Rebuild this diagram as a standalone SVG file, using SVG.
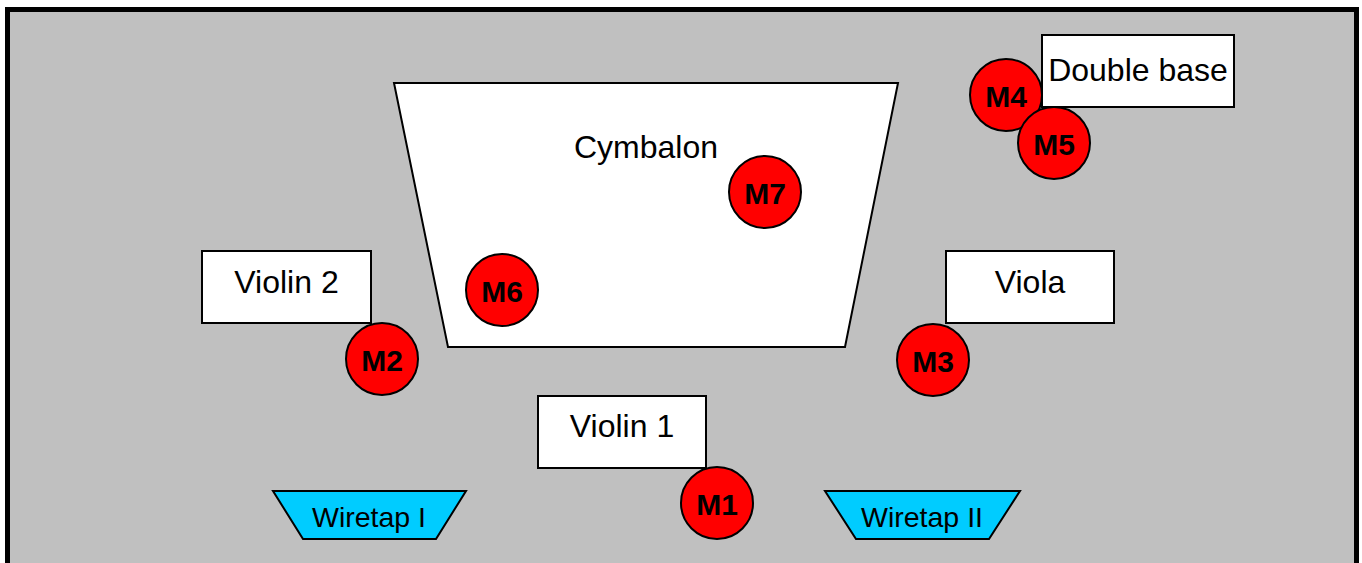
<svg xmlns="http://www.w3.org/2000/svg" width="1362" height="563" viewBox="0 0 1362 563">
<style>
.box{fill:#ffffff;stroke:#000;stroke-width:2}
.mic{fill:#ff0000;stroke:#000;stroke-width:2}
.lbl{font-family:"Liberation Sans",Arial,sans-serif;font-size:32px;fill:#000;text-anchor:middle}
.mlbl{font-family:"Liberation Sans",Arial,sans-serif;font-size:30px;font-weight:bold;fill:#000;text-anchor:middle}
.tap{fill:#00ccff;stroke:#000;stroke-width:2}
.tlbl{font-family:"Liberation Sans",Arial,sans-serif;font-size:28.5px;fill:#000;text-anchor:middle}
</style>
<rect id="stage" x="7.5" y="9.5" width="1349" height="570" fill="#c0c0c0" stroke="#000" stroke-width="5"/>
<g id="connectors"></g>
<g id="cymbalon">
<polygon class="box" points="394,83 898,83 845,347 448,347"/>
<text class="lbl" x="646" y="158">Cymbalon</text>
</g>
<g id="violin2">
<rect class="box" x="202" y="251" width="169" height="72"/>
<text class="lbl" x="286.5" y="293">Violin 2</text>
</g>
<g id="viola">
<rect class="box" x="946" y="251" width="168" height="72"/>
<text class="lbl" x="1030" y="293">Viola</text>
</g>
<g id="violin1">
<rect class="box" x="538" y="396" width="168" height="72"/>
<text class="lbl" x="622" y="437">Violin 1</text>
</g>
<g id="wiretap1">
<polygon class="tap" points="273,491 466,491 436,539 303,539"/>
<text class="tlbl" x="369" y="527">Wiretap I</text>
</g>
<g id="wiretap2">
<polygon class="tap" points="825,491 1020,491 989,539 856,539"/>
<text class="tlbl" x="922" y="527">Wiretap II</text>
</g>
<g id="m4">
<circle class="mic" cx="1006" cy="95" r="36"/>
<text class="mlbl" x="1006" y="107">M4</text>
</g>
<g id="doublebase">
<rect class="box" x="1042" y="35" width="192" height="72"/>
<text class="lbl" x="1138" y="81">Double base</text>
</g>
<g id="m5">
<circle class="mic" cx="1054" cy="143" r="36"/>
<text class="mlbl" x="1054" y="155">M5</text>
</g>
<g id="m7">
<circle class="mic" cx="765" cy="192" r="36"/>
<text class="mlbl" x="765" y="204">M7</text>
</g>
<g id="m6">
<circle class="mic" cx="502" cy="290" r="36"/>
<text class="mlbl" x="502" y="302">M6</text>
</g>
<g id="m2">
<circle class="mic" cx="382" cy="359" r="36"/>
<text class="mlbl" x="382" y="371">M2</text>
</g>
<g id="m3">
<circle class="mic" cx="933" cy="360" r="36"/>
<text class="mlbl" x="933" y="372">M3</text>
</g>
<g id="m1">
<circle class="mic" cx="717" cy="503" r="36"/>
<text class="mlbl" x="717" y="515">M1</text>
</g>
</svg>
